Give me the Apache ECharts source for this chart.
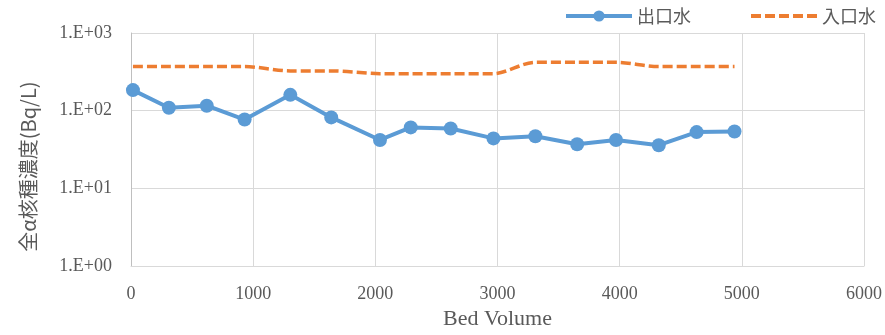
<!DOCTYPE html>
<html><head><meta charset="utf-8">
<script src="https://cdn.jsdelivr.net/npm/echarts@6/dist/echarts.min.js"></script>
<style>html,body{margin:0;padding:0;background:#fff}#c{width:885px;height:335px}</style>
</head><body><div id="c"></div>
<script>
const bedVolume = [16, 310, 620, 930, 1304, 1639, 2038, 2290, 2617, 2967, 3310, 3652, 3970, 4320, 4630, 4940];
const outletValues = [184, 109, 116, 77, 160, 82, 42, 61, 59, 44, 47, 37, 42, 36, 53, 54];
const inletValues = [370, 370, 370, 370, 325, 325, 300, 300, 300, 300, 420, 420, 420, 370, 370, 370];
const seriesNames = ['出口水', '入口水'];
const xTicks = {min: 0, max: 6000, interval: 1000};
const yTicks = {min: 1, max: 1000};

const chart = echarts.init(document.getElementById('c'));
const grey = '#595959';
const serif = '"Liberation Serif","Times New Roman",serif';
chart.setOption({
  animation: false,
  grid: {left: 131, right: 18, top: 33, bottom: 65},
  legend: {
    right: 4, top: 2, itemWidth: 66, itemHeight: 14, itemGap: 58,
    textStyle: {fontSize: 18, color: grey, fontFamily: '"Noto Sans CJK JP"'},
    data: [
      {name: seriesNames[0], lineStyle: {width: 4}},
      {name: seriesNames[1], itemStyle: {opacity: 0}, lineStyle: {width: 4, type: [10, 4]}}
    ]
  },
  xAxis: {
    type: 'value', min: xTicks.min, max: xTicks.max, interval: xTicks.interval,
    name: 'Bed Volume', nameLocation: 'middle', nameGap: 38,
    nameTextStyle: {fontSize: 22, color: grey, fontFamily: serif},
    axisLine: {show: true, lineStyle: {color: '#D9D9D9'}},
    axisTick: {show: false},
    axisLabel: {fontSize: 18, color: grey, fontFamily: serif, margin: 19, formatter: v => String(v)},
    splitLine: {show: true, lineStyle: {color: '#D9D9D9', width: 1}}
  },
  yAxis: {
    type: 'log', logBase: 10, min: yTicks.min, max: yTicks.max,
    name: '全α核種濃度(Bq/L)', nameLocation: 'middle', nameGap: 93, nameRotate: 90,
    nameTextStyle: {fontSize: 20, color: grey, fontFamily: '"Noto Sans CJK JP"', padding: [0, 34, 0, 0]},
    axisLine: {show: true, lineStyle: {color: '#BFBFBF'}},
    axisTick: {show: false},
    axisLabel: {
      fontSize: 18, color: grey, fontFamily: serif, margin: 19,
      formatter: v => '1.E+' + String(Math.round(Math.log10(v))).padStart(2, '0')
    },
    splitLine: {show: true, lineStyle: {color: '#D9D9D9', width: 1}}
  },
  series: [
    {
      name: seriesNames[0], type: 'line',
      data: bedVolume.map((x, i) => [x, outletValues[i]]),
      symbol: 'circle', symbolSize: 14,
      lineStyle: {color: '#5B9BD5', width: 4},
      itemStyle: {color: '#5B9BD5'},
      z: 3
    },
    {
      name: seriesNames[1], type: 'line',
      data: bedVolume.map((x, i) => [x, inletValues[i]]),
      symbol: 'none', smooth: 0.3, smoothMonotone: 'x',
      lineStyle: {color: '#ED7D31', width: 3.5, type: [10, 4]},
      itemStyle: {color: '#ED7D31'},
      z: 2
    }
  ]
});
</script></body></html>
